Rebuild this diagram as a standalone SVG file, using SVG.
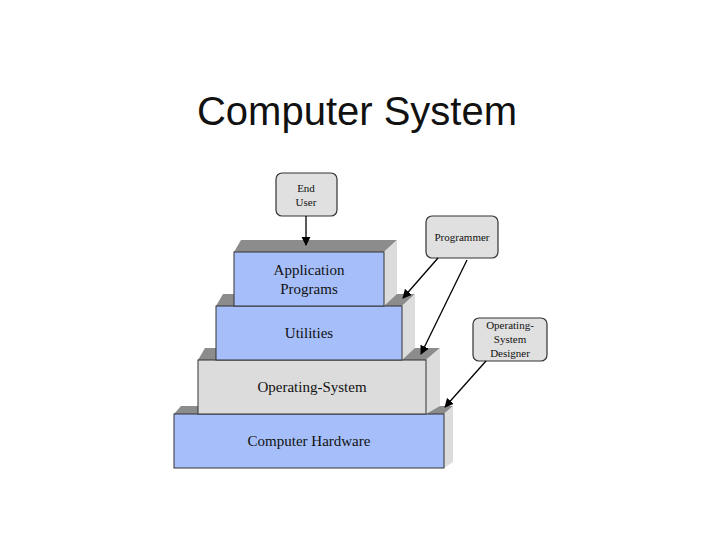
<svg xmlns="http://www.w3.org/2000/svg" width="720" height="540" viewBox="0 0 720 540">
<style>
.t{font-family:"Liberation Serif",serif;fill:#111;text-anchor:middle}
.top{fill:#8c8c8c}.side{fill:#dcdcdc}
.blue{fill:#a6bffa;stroke:#333;stroke-width:1}
.grey{fill:#dcdcdc;stroke:#333;stroke-width:1}
.lbl{fill:#e0e0e0;stroke:#333;stroke-width:1.2}
.c{stroke:#000;stroke-width:1.3;fill:none;marker-end:url(#a)}
</style>
<defs><marker id="a" viewBox="0 0 10 10" refX="9" refY="5" markerWidth="7" markerHeight="7" orient="auto"><path d="M0,0L10,5L0,10z" fill="#000"/></marker></defs>
<rect width="720" height="540" fill="#fff"/>
<text x="357" y="125" font-family="Liberation Sans,sans-serif" font-size="40" text-anchor="middle" fill="#111">Computer System</text>
<g id="hardware">
<polygon class="top" points="174,414 181,406 453,406 444,414"/>
<polygon class="side" points="444,414 453,406 453,462 444,468"/>
<rect class="blue" x="174" y="414" width="270" height="54"/>
<text class="t" x="309" y="446" font-size="15">Computer Hardware</text>
</g>
<g id="os">
<polygon class="top" points="198,360 205,348 440,348 426,360"/>
<polygon class="side" points="426,360 440,348 440,406 426,414"/>
<rect class="grey" x="198" y="360" width="228" height="54"/>
<text class="t" x="312" y="392" font-size="15">Operating-System</text>
</g>
<g id="utilities">
<polygon class="top" points="216,306 223,294 415,294 402,306"/>
<polygon class="side" points="402,306 415,294 415,348 402,360"/>
<rect class="blue" x="216" y="306" width="186" height="54"/>
<text class="t" x="309" y="338" font-size="15">Utilities</text>
</g>
<g id="application">
<polygon class="top" points="234,252 241,240 397,240 384,252"/>
<polygon class="side" points="384,252 397,240 397,294 384,306"/>
<rect class="blue" x="234" y="252" width="150" height="54"/>
<text class="t" x="309" y="275" font-size="15">Application</text>
<text class="t" x="309" y="294" font-size="15">Programs</text>
</g>
<g id="enduser">
<rect class="lbl" x="276" y="173" width="61" height="43" rx="6"/>
<text class="t" x="306" y="192" font-size="11">End</text>
<text class="t" x="306" y="206" font-size="11">User</text>
</g>
<g id="programmer">
<rect class="lbl" x="426" y="216" width="72" height="42" rx="6"/>
<text class="t" x="462" y="241" font-size="11">Programmer</text>
</g>
<g id="designer">
<rect class="lbl" x="473" y="318" width="74" height="43" rx="6"/>
<text class="t" x="510" y="329" font-size="11">Operating-</text>
<text class="t" x="510" y="343" font-size="11">System</text>
<text class="t" x="510" y="357" font-size="11">Designer</text>
</g>
<g id="connectors">
<line class="c" x1="306" y1="216" x2="306" y2="245"/>
<line class="c" x1="438" y1="258" x2="403" y2="298"/>
<line class="c" x1="467" y1="260" x2="421" y2="354"/>
<line class="c" x1="486" y1="361" x2="445" y2="407"/>
</g>
</svg>
